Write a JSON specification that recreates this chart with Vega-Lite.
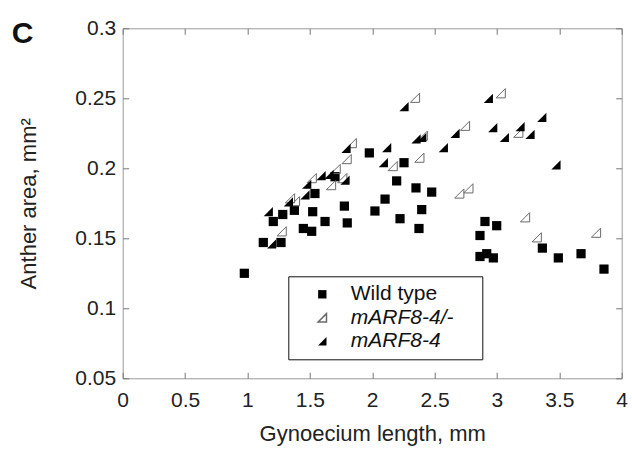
{
  "$schema": "https://vega.github.io/schema/vega-lite/v6.json",
  "width": 499,
  "height": 350,
  "autosize": {"type": "none"},
  "padding": {"left": 122.7, "top": 28.3, "right": 10.3, "bottom": 71.7},
  "title": {"text": "C", "anchor": "start", "frame": "group", "orient": "top", "offset": -62, "baseline": "bottom", "dx": -111, "fontSize": 30, "fontWeight": "bold", "color": "#111", "font": "Liberation Sans"},
  "config": {
    "font": "Liberation Sans",
    "view": {"stroke": "#9a9a9a", "strokeWidth": 1},
    "axis": {"grid": false, "domain": false, "tickColor": "#777", "tickSize": -6, "labelFontSize": 21, "labelColor": "#222", "titleFontSize": 22, "titleColor": "#222", "titleFontWeight": "normal", "labelFont": "Liberation Sans", "titleFont": "Liberation Sans"},
    "legend": {"title": null, "orient": "none", "legendX": 165.6, "legendY": 248, "strokeColor": "#111", "fillColor": "white", "padding": 7.5, "symbolOffset": 16, "labelOffset": 18, "labelFontSize": 21, "labelColor": "#111", "rowPadding": 1.5, "symbolSize": 70}
  },
  "data": {"values": [
    {"x": 0.975, "y": 0.125, "g": "Wild type"},
    {"x": 1.127, "y": 0.147, "g": "Wild type"},
    {"x": 1.269, "y": 0.147, "g": "Wild type"},
    {"x": 1.207, "y": 0.162, "g": "Wild type"},
    {"x": 1.283, "y": 0.167, "g": "Wild type"},
    {"x": 1.376, "y": 0.170, "g": "Wild type"},
    {"x": 1.448, "y": 0.157, "g": "Wild type"},
    {"x": 1.515, "y": 0.155, "g": "Wild type"},
    {"x": 1.523, "y": 0.169, "g": "Wild type"},
    {"x": 1.541, "y": 0.182, "g": "Wild type"},
    {"x": 1.622, "y": 0.162, "g": "Wild type"},
    {"x": 1.702, "y": 0.194, "g": "Wild type"},
    {"x": 1.777, "y": 0.173, "g": "Wild type"},
    {"x": 1.800, "y": 0.161, "g": "Wild type"},
    {"x": 1.977, "y": 0.211, "g": "Wild type"},
    {"x": 2.022, "y": 0.1695, "g": "Wild type"},
    {"x": 2.103, "y": 0.178, "g": "Wild type"},
    {"x": 2.196, "y": 0.191, "g": "Wild type"},
    {"x": 2.223, "y": 0.164, "g": "Wild type"},
    {"x": 2.255, "y": 0.204, "g": "Wild type"},
    {"x": 2.351, "y": 0.186, "g": "Wild type"},
    {"x": 2.375, "y": 0.157, "g": "Wild type"},
    {"x": 2.397, "y": 0.1705, "g": "Wild type"},
    {"x": 2.477, "y": 0.183, "g": "Wild type"},
    {"x": 2.864, "y": 0.152, "g": "Wild type"},
    {"x": 2.864, "y": 0.137, "g": "Wild type"},
    {"x": 2.918, "y": 0.139, "g": "Wild type"},
    {"x": 2.971, "y": 0.136, "g": "Wild type"},
    {"x": 2.904, "y": 0.162, "g": "Wild type"},
    {"x": 2.998, "y": 0.159, "g": "Wild type"},
    {"x": 3.364, "y": 0.143, "g": "Wild type"},
    {"x": 3.492, "y": 0.136, "g": "Wild type"},
    {"x": 3.674, "y": 0.139, "g": "Wild type"},
    {"x": 3.858, "y": 0.128, "g": "Wild type"},
    {"x": 1.274, "y": 0.155, "g": "mARF8-4/-"},
    {"x": 1.341, "y": 0.1786, "g": "mARF8-4/-"},
    {"x": 1.381, "y": 0.1765, "g": "mARF8-4/-"},
    {"x": 1.515, "y": 0.193, "g": "mARF8-4/-"},
    {"x": 1.670, "y": 0.188, "g": "mARF8-4/-"},
    {"x": 1.707, "y": 0.1995, "g": "mARF8-4/-"},
    {"x": 1.760, "y": 0.193, "g": "mARF8-4/-"},
    {"x": 1.795, "y": 0.2066, "g": "mARF8-4/-"},
    {"x": 1.836, "y": 0.218, "g": "mARF8-4/-"},
    {"x": 2.164, "y": 0.2016, "g": "mARF8-4/-"},
    {"x": 2.343, "y": 0.2504, "g": "mARF8-4/-"},
    {"x": 2.378, "y": 0.2076, "g": "mARF8-4/-"},
    {"x": 2.405, "y": 0.2233, "g": "mARF8-4/-"},
    {"x": 2.698, "y": 0.182, "g": "mARF8-4/-"},
    {"x": 2.744, "y": 0.2304, "g": "mARF8-4/-"},
    {"x": 2.771, "y": 0.1857, "g": "mARF8-4/-"},
    {"x": 3.030, "y": 0.2536, "g": "mARF8-4/-"},
    {"x": 3.171, "y": 0.2254, "g": "mARF8-4/-"},
    {"x": 3.225, "y": 0.165, "g": "mARF8-4/-"},
    {"x": 3.319, "y": 0.1507, "g": "mARF8-4/-"},
    {"x": 3.794, "y": 0.154, "g": "mARF8-4/-"},
    {"x": 1.167, "y": 0.169, "g": "mARF8-4"},
    {"x": 1.194, "y": 0.146, "g": "mARF8-4"},
    {"x": 1.328, "y": 0.176, "g": "mARF8-4"},
    {"x": 1.461, "y": 0.181, "g": "mARF8-4"},
    {"x": 1.475, "y": 0.1886, "g": "mARF8-4"},
    {"x": 1.590, "y": 0.1947, "g": "mARF8-4"},
    {"x": 1.654, "y": 0.1957, "g": "mARF8-4"},
    {"x": 1.782, "y": 0.1916, "g": "mARF8-4"},
    {"x": 1.790, "y": 0.2143, "g": "mARF8-4"},
    {"x": 2.089, "y": 0.204, "g": "mARF8-4"},
    {"x": 2.116, "y": 0.2147, "g": "mARF8-4"},
    {"x": 2.255, "y": 0.244, "g": "mARF8-4"},
    {"x": 2.351, "y": 0.221, "g": "mARF8-4"},
    {"x": 2.397, "y": 0.222, "g": "mARF8-4"},
    {"x": 2.570, "y": 0.2147, "g": "mARF8-4"},
    {"x": 2.664, "y": 0.225, "g": "mARF8-4"},
    {"x": 2.931, "y": 0.250, "g": "mARF8-4"},
    {"x": 2.966, "y": 0.229, "g": "mARF8-4"},
    {"x": 3.059, "y": 0.222, "g": "mARF8-4"},
    {"x": 3.185, "y": 0.2297, "g": "mARF8-4"},
    {"x": 3.265, "y": 0.2243, "g": "mARF8-4"},
    {"x": 3.359, "y": 0.2364, "g": "mARF8-4"},
    {"x": 3.473, "y": 0.2024, "g": "mARF8-4"}
  ]},
  "layer": [
    {
      "mark": {"type": "point", "filled": true, "opacity": 1, "size": 85, "strokeWidth": 1},
      "encoding": {
        "x": {"field": "x", "type": "quantitative", "scale": {"domain": [0, 4], "nice": false, "zero": false},
              "axis": {"orient": "bottom", "values": [0, 0.5, 1, 1.5, 2, 2.5, 3, 3.5, 4], "format": "~g", "labelPadding": 17, "title": "Gynoecium length, mm", "titlePadding": 13, "labelFlush": false}},
        "y": {"field": "y", "type": "quantitative", "scale": {"domain": [0.05, 0.3], "nice": false, "zero": false},
              "axis": {"orient": "left", "values": [0.05, 0.1, 0.15, 0.2, 0.25, 0.3], "format": "~g", "labelPadding": 13, "title": "Anther area, mm²", "titlePadding": 34, "labelFlush": false}},
        "shape": {"field": "g", "type": "nominal",
                  "scale": {"domain": ["Wild type", "mARF8-4/-", "mARF8-4"], "range": ["square", "M -1 1 L 1 1 L 1 -1 Z", "M -1 1 L 1 1 L 1 -1 Z"]},
                  "legend": {"title": null, "labelExpr": "datum.label + '\u00a0\u2800'",
                             "labelFontStyle": {"expr": "datum.value === 'Wild type' ? 'normal' : 'italic'"}}},
        "fill": {"field": "g", "type": "nominal", "scale": {"domain": ["Wild type", "mARF8-4/-", "mARF8-4"], "range": ["#000000", "transparent", "#000000"]},
                 "legend": {"title": null, "labelExpr": "datum.label + '\u00a0\u2800'",
                             "labelFontStyle": {"expr": "datum.value === 'Wild type' ? 'normal' : 'italic'"}}},
        "stroke": {"field": "g", "type": "nominal", "scale": {"domain": ["Wild type", "mARF8-4/-", "mARF8-4"], "range": ["transparent", "#6a6a6a", "transparent"]},
                 "legend": {"title": null, "labelExpr": "datum.label + '\u00a0\u2800'",
                             "labelFontStyle": {"expr": "datum.value === 'Wild type' ? 'normal' : 'italic'"}}}
      }
    },
    {
      "mark": {"type": "point", "opacity": 0},
      "encoding": {
        "x": {"field": "x", "type": "quantitative", "axis": {"orient": "top", "values": [0, 0.5, 1, 1.5, 2, 2.5, 3, 3.5, 4], "labels": false, "title": null}},
        "y": {"field": "y", "type": "quantitative", "axis": {"orient": "right", "values": [0.05, 0.1, 0.15, 0.2, 0.25, 0.3], "labels": false, "title": null}}
      }
    }
  ],
  "resolve": {"axis": {"x": "independent", "y": "independent"}}
}
